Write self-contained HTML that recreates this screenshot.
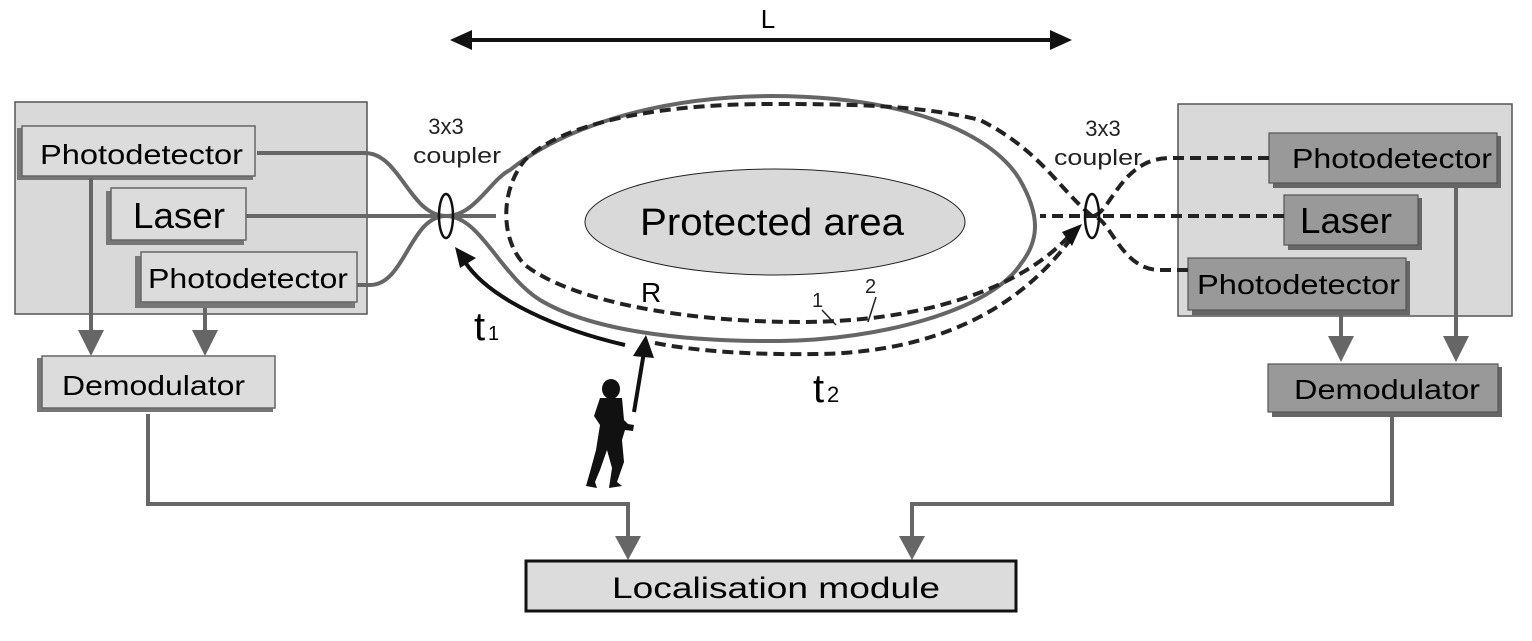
<!DOCTYPE html>
<html><head><style>
html,body{margin:0;padding:0;background:#fff;}
svg{display:block;}
text{font-family:"Liberation Sans",sans-serif;}
</style></head><body>
<svg width="1532" height="641" viewBox="0 0 1532 641" xmlns="http://www.w3.org/2000/svg">
<!-- L arrow -->
<line x1="462" y1="40" x2="1060" y2="40" stroke="#111" stroke-width="4"/>
<path d="M450,40 L472,30 L472,50 z" fill="#111"/>
<path d="M1072,40 L1050,30 L1050,50 z" fill="#111"/>
<text x="768" y="28" font-size="26" text-anchor="middle">L</text>

<!-- Left group -->
<rect x="15" y="102" width="352" height="212" fill="#d9d9d9" stroke="#555" stroke-width="1.5"/>
<rect x="17" y="128" width="236" height="52" fill="#777"/>
<rect x="22" y="126" width="233" height="50" fill="#dcdcdc" stroke="#666" stroke-width="1.5"/>
<text x="40" y="164" font-size="28" textLength="203" lengthAdjust="spacingAndGlyphs">Photodetector</text>
<rect x="106" y="191" width="138" height="54" fill="#777"/>
<rect x="111" y="188" width="135" height="52" fill="#dcdcdc" stroke="#666" stroke-width="1.5"/>
<text x="133" y="228" font-size="36" textLength="92" lengthAdjust="spacingAndGlyphs">Laser</text>
<rect x="135" y="256" width="220" height="52" fill="#777"/>
<rect x="141" y="252" width="216" height="50" fill="#dcdcdc" stroke="#666" stroke-width="1.5"/>
<text x="148" y="288" font-size="28" textLength="200" lengthAdjust="spacingAndGlyphs">Photodetector</text>
<rect x="37" y="358" width="236" height="54" fill="#777"/>
<rect x="42" y="356" width="233" height="52" fill="#dcdcdc" stroke="#666" stroke-width="1.5"/>
<text x="62" y="395" font-size="28" textLength="183" lengthAdjust="spacingAndGlyphs">Demodulator</text>
<g stroke="#666" stroke-width="4" fill="none">
<line x1="91" y1="178" x2="91" y2="335"/>
<line x1="205" y1="308" x2="205" y2="335"/>
</g>
<path d="M78,330 L104,330 L91,356 z" fill="#666"/>
<path d="M192,330 L218,330 L205,356 z" fill="#666"/>

<!-- Right group -->
<rect x="1178" y="104" width="334" height="212" fill="#d9d9d9" stroke="#555" stroke-width="1.5"/>
<rect x="1273" y="136" width="228" height="52" fill="#666"/>
<rect x="1269" y="133" width="228" height="50" fill="#999" stroke="#555" stroke-width="1.2"/>
<text x="1292" y="168" font-size="28" textLength="200" lengthAdjust="spacingAndGlyphs">Photodetector</text>
<rect x="1288" y="198" width="134" height="52" fill="#666"/>
<rect x="1284" y="195" width="134" height="50" fill="#999" stroke="#555" stroke-width="1.2"/>
<text x="1300" y="233" font-size="36" textLength="92" lengthAdjust="spacingAndGlyphs">Laser</text>
<rect x="1192" y="261" width="218" height="54" fill="#666"/>
<rect x="1188" y="258" width="218" height="52" fill="#999" stroke="#555" stroke-width="1.2"/>
<text x="1197" y="294" font-size="28" textLength="203" lengthAdjust="spacingAndGlyphs">Photodetector</text>
<rect x="1272" y="367" width="230" height="50" fill="#666"/>
<rect x="1268" y="364" width="230" height="48" fill="#999" stroke="#555" stroke-width="1.2"/>
<text x="1294" y="399" font-size="28" textLength="186" lengthAdjust="spacingAndGlyphs">Demodulator</text>
<g stroke="#666" stroke-width="4">
<line x1="1341" y1="314" x2="1341" y2="340"/>
<line x1="1456" y1="186" x2="1456" y2="340"/>
</g>
<path d="M1328,336 L1354,336 L1341,362 z" fill="#666"/>
<path d="M1443,336 L1469,336 L1456,362 z" fill="#666"/>

<!-- Demod to localisation -->
<g stroke="#666" stroke-width="4" fill="none">
<polyline points="148,414 148,504 628,504 628,540"/>
<polyline points="1392,414 1392,504 912,504 912,540"/>
</g>
<path d="M615,536 L641,536 L628,560 z" fill="#666"/>
<path d="M899,536 L925,536 L912,560 z" fill="#666"/>
<rect x="526" y="561" width="490" height="50" fill="#dcdcdc" stroke="#111" stroke-width="3"/>
<text x="612" y="598" font-size="30" textLength="328" lengthAdjust="spacingAndGlyphs">Localisation module</text>

<!-- Protected area -->
<ellipse cx="775" cy="222" rx="190" ry="53" fill="#d9d9d9" stroke="#222" stroke-width="1"/>
<text x="640" y="235" font-size="38" textLength="264" lengthAdjust="spacingAndGlyphs">Protected area</text>

<!-- left fibers -->
<g stroke="#666" stroke-width="4" fill="none">
<path d="M257,153 L365,153 C400,153 410,216 446,216"/>
<path d="M246,216 L496,216"/>
<path d="M357,285 L370,285 C405,285 410,216 446,216"/>
<path d="M446,216 C475,216 490,180 510,170 C560,130 650,97 770,96 C900,96 990,130 1020,180 C1040,215 1040,240 1020,265 C990,310 880,340 780,341 C680,342 590,330 540,300 C500,275 480,216 446,216"/>
</g>
<!-- right fibers dashed -->
<g stroke="#222" stroke-width="4" fill="none" stroke-dasharray="11,6">
<path d="M1269,158 L1170,158 C1120,158 1110,216 1092,216"/>
<path d="M1284,216 L1040,216"/>
<path d="M1188,270 L1160,270 C1120,270 1110,216 1092,216"/>
<path d="M1092,216 C1060,190 1040,150 980,120 C920,105 850,104 770,104 C650,104 560,125 525,160 C500,190 500,240 525,265 C570,300 680,322 800,322 C920,322 1020,290 1070,235"/>
<path d="M655,343 C700,352 760,355 820,354 C920,352 1010,320 1070,240"/>
</g>
<path d="M1082,224 L1062,232 L1072,246 z" fill="#111"/>
<!-- couplers -->
<ellipse cx="446" cy="216" rx="7" ry="22" fill="none" stroke="#111" stroke-width="2.5"/>
<ellipse cx="1092" cy="216" rx="7" ry="22" fill="none" stroke="#111" stroke-width="2.5"/>
<text x="446" y="134" font-size="22" text-anchor="middle" fill="#222">3x3</text>
<text x="413" y="163" font-size="22" fill="#222" textLength="88" lengthAdjust="spacingAndGlyphs">coupler</text>
<text x="1103" y="136" font-size="22" text-anchor="middle" fill="#222">3x3</text>
<text x="1054" y="165" font-size="22" fill="#222" textLength="88" lengthAdjust="spacingAndGlyphs">coupler</text>

<!-- t1 arrow -->
<path d="M625,345 C560,330 490,300 465,262" stroke="#111" stroke-width="4" fill="none"/>
<path d="M455,247 L476,258 L460,268 z" fill="#111"/>
<!-- person arrow -->
<line x1="634" y1="412" x2="644" y2="352" stroke="#111" stroke-width="4"/>
<path d="M646,335 L633,356 L654,358 z" fill="#111"/>
<!-- person -->
<g fill="#111">
<ellipse cx="611" cy="389" rx="9" ry="10"/>
<path d="M600,398 L622,398 L624,420 L628,424 L634,425 L633,431 L625,430 L622,440 L624,462 L617,482 L622,486 L609,488 L612,468 L607,450 L600,470 L595,482 L597,488 L586,486 L590,472 L596,450 L600,425 L594,416 Z"/>
</g>

<text x="474" y="340" font-size="40">t</text><text x="488" y="340" font-size="20">1</text>
<text x="813" y="402" font-size="40">t</text><text x="827" y="402" font-size="22">2</text>
<text x="641" y="302" font-size="28">R</text>
<text x="812" y="307" font-size="20" fill="#222">1</text>
<text x="865" y="293" font-size="20" fill="#222">2</text>
<line x1="822" y1="310" x2="836" y2="325" stroke="#222" stroke-width="1.5"/>
<line x1="876" y1="297" x2="868" y2="322" stroke="#222" stroke-width="1.5"/>
</svg>
</body></html>
